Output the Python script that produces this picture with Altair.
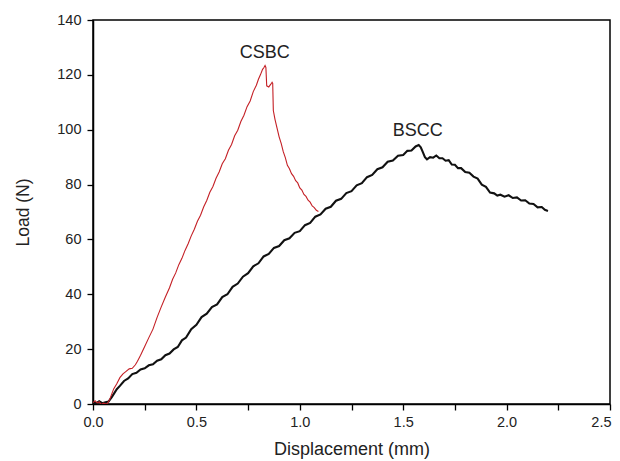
import altair as alt
import pandas as pd

# CSBC (red) load-displacement curve
csbc_x = [0.0, 0.01, 0.02, 0.03, 0.04, 0.05, 0.06, 0.07, 0.08, 0.09, 0.10, 0.115, 0.13, 0.145,
          0.16, 0.175, 0.19, 0.205, 0.215, 0.23, 0.25, 0.27, 0.29, 0.31, 0.33, 0.35, 0.37, 0.385,
          0.40, 0.415, 0.43, 0.445, 0.46, 0.475, 0.49, 0.505, 0.52, 0.535, 0.55, 0.565, 0.58,
          0.595, 0.61, 0.625, 0.64, 0.655, 0.67, 0.685, 0.70, 0.715, 0.73, 0.745, 0.76, 0.775,
          0.79, 0.80, 0.81, 0.82, 0.826, 0.832, 0.836, 0.84, 0.85, 0.86, 0.866, 0.869, 0.872,
          0.88, 0.89, 0.90, 0.91, 0.92, 0.93, 0.94, 0.95, 0.96, 0.97, 0.98, 0.99, 1.00, 1.01,
          1.02, 1.03, 1.04, 1.05, 1.06, 1.07, 1.08, 1.09]
csbc_y = [0.5, 1.2, 0.4, 0.8, -0.2, 0.3, 0.1, 0.2, 1.5, 3.5, 5.5, 7.4, 9.6, 11.0, 11.9, 12.8,
          13.0, 14.3, 15.6, 17.8, 21.0, 24.2, 27.3, 31.6, 35.4, 39.0, 42.4, 45.5, 47.8, 50.8,
          53.1, 56.0, 58.4, 61.3, 63.7, 66.6, 68.8, 71.8, 74.2, 77.2, 79.3, 82.3, 84.6, 87.6,
          89.4, 92.5, 94.6, 97.8, 99.8, 103.0, 105.3, 108.4, 110.5, 113.9, 116.2, 118.4, 120.1,
          122.0, 122.6, 123.4, 122.7, 116.0, 115.6, 116.6, 117.3, 116.9, 107.0, 103.8, 100.6,
          97.4, 95.0, 92.0, 89.8, 87.0, 85.8, 84.0, 83.0, 81.4, 80.6, 78.8, 78.0, 76.4, 75.7,
          74.3, 73.6, 72.2, 71.6, 70.6, 70.2]

# BSCC (black) load-displacement curve
bscc_x = [0.0, 0.015, 0.03, 0.045, 0.06, 0.075, 0.09, 0.10, 0.115, 0.13, 0.15, 0.17, 0.19,
          0.21, 0.23, 0.25, 0.27, 0.29, 0.31, 0.33, 0.35, 0.37, 0.39, 0.41, 0.43, 0.45, 0.475,
          0.50, 0.525, 0.55, 0.575, 0.60, 0.625, 0.65, 0.675, 0.70, 0.725, 0.75, 0.775, 0.80,
          0.825, 0.85, 0.875, 0.90, 0.925, 0.95, 0.975, 1.00, 1.025, 1.05, 1.075, 1.10, 1.125,
          1.15, 1.175, 1.20, 1.225, 1.25, 1.275, 1.30, 1.325, 1.35, 1.375, 1.40, 1.425, 1.45,
          1.475, 1.50, 1.52, 1.54, 1.56, 1.575, 1.585, 1.595, 1.605, 1.615, 1.63, 1.645, 1.66,
          1.675, 1.69, 1.705, 1.72, 1.735, 1.75, 1.765, 1.78, 1.80, 1.82, 1.84, 1.86, 1.88,
          1.90, 1.92, 1.94, 1.955, 1.97, 1.99, 2.01, 2.03, 2.05, 2.07, 2.09, 2.11, 2.13, 2.15,
          2.17, 2.185, 2.20]
bscc_y = [0.8, 0.2, 1.0, 0.3, 0.6, 0.9, 2.4, 3.6, 5.4, 6.6, 8.4, 9.3, 10.9, 11.4, 12.6, 13.0,
          14.1, 14.5, 15.8, 16.3, 17.8, 18.4, 19.9, 20.8, 23.2, 24.2, 27.3, 28.9, 31.7, 32.9,
          35.3, 36.3, 39.0, 40.0, 42.7, 43.9, 46.4, 47.7, 50.2, 51.3, 53.8, 54.7, 56.9, 57.6,
          59.7, 60.4, 62.4, 63.0, 65.2, 66.0, 68.3, 69.1, 71.2, 71.9, 74.1, 74.8, 76.9, 77.6,
          79.7, 80.5, 82.7, 83.5, 85.6, 86.3, 88.3, 88.8, 90.5, 90.8, 92.3, 92.4, 93.9, 94.4,
          93.6, 91.8, 90.0, 89.2, 90.0, 89.8, 90.6, 89.6, 89.6, 88.7, 88.9, 87.3, 87.2, 86.0,
          86.0, 84.6, 84.3, 82.9, 82.2, 80.0, 79.2, 77.1, 76.8, 76.0, 76.3, 75.6, 76.1, 75.1,
          75.3, 74.2, 74.3, 73.1, 72.9, 71.7, 71.8, 70.8, 70.4]

label_text = ["CSBC", "BSCC"]
label_x = [0.83, 1.57]
label_y = [128.0, 99.5]

x_ticks = [i * 0.25 for i in range(11)]
y_ticks = list(range(0, 141, 10))

df = pd.concat([
    pd.DataFrame({"x": csbc_x, "y": csbc_y, "s": "CSBC"}),
    pd.DataFrame({"x": bscc_x, "y": bscc_y, "s": "BSCC"}),
])
df_lab = pd.DataFrame({"t": label_text, "x": label_x, "y": label_y})

FONT = "Liberation Sans"

xscale = alt.Scale(domain=[0, 2.5], nice=False, zero=False)
yscale = alt.Scale(domain=[0, 140], nice=False, zero=False)

xaxis = alt.Axis(values=x_ticks, title="Displacement (mm)",
                 labelExpr="datum.value % 0.5 == 0 ? format(datum.value, '.1f') : ''",
                 labelAlign={"condition": {"test": "datum.value >= 2.5", "value": "right"},
                             "value": "center"},
                 labelOffset={"condition": {"test": "datum.value >= 2.5", "value": 1},
                              "value": 0},
                 grid=False, tickSize=6, labelPadding=5, labelFontSize=14.5, labelFont=FONT,
                 titleFontSize=18, titleFont=FONT, titleFontWeight="normal", titlePadding=12,
                 labelOverlap=False, labelFlush=False, domainColor="black", domainWidth=1.5,
                 tickColor="black", tickWidth=1.3, labelColor="#222", titleColor="#222")
yaxis = alt.Axis(values=y_ticks, title="Load (N)",
                 labelExpr="datum.value % 20 == 0 ? format(datum.value, 'd') : ''",
                 grid=False, tickSize=6, labelPadding=6, labelFontSize=14.5, labelFont=FONT,
                 titleFontSize=17.5, titleFont=FONT, titleFontWeight="normal", titlePadding=24,
                 labelOverlap=False, labelFlush=False, domainColor="black", domainWidth=1.5,
                 tickColor="black", tickWidth=1.3, labelColor="#222", titleColor="#222")

csbc = alt.Chart(df).transform_filter(alt.datum.s == "CSBC").mark_line(
    color="#c42026", strokeWidth=1.1, clip=True
).encode(
    x=alt.X("x:Q", scale=xscale, axis=xaxis),
    y=alt.Y("y:Q", scale=yscale, axis=yaxis),
    order="x:Q",
)
bscc = alt.Chart(df).transform_filter(alt.datum.s == "BSCC").mark_line(
    color="#111111", strokeWidth=2.1, clip=True
).encode(
    x=alt.X("x:Q", scale=xscale, axis=xaxis),
    y=alt.Y("y:Q", scale=yscale, axis=yaxis),
    order="x:Q",
)
labels = alt.Chart(df_lab).mark_text(fontSize=18, font=FONT, color="#222").encode(
    x=alt.X("x:Q", scale=xscale),
    y=alt.Y("y:Q", scale=yscale),
    text="t:N",
)

chart = alt.layer(bscc, csbc, labels).properties(
    width=517, height=384, background="white",
    autosize=alt.AutoSizeParams(type="none"),
    padding={"left": 85, "top": 12, "right": 2, "bottom": 57},
).configure_view(stroke="black", strokeWidth=1.5)

chart.save("out.html", embed_options={"renderer": "svg", "actions": False})
